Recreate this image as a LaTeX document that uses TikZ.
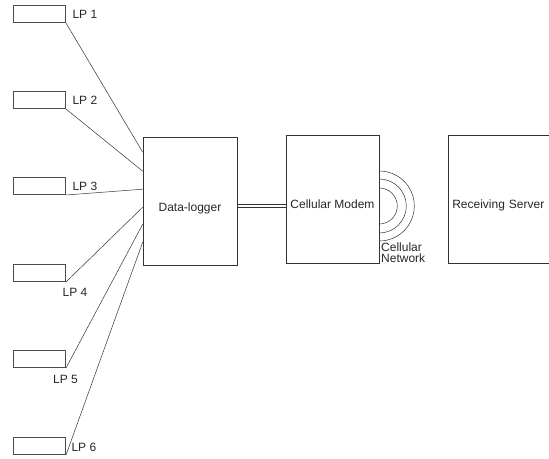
\documentclass[tikz,border=0pt]{standalone}
\usepackage{fontspec}
\setmainfont{Liberation Sans}
\usetikzlibrary{positioning,calc}

\begin{document}
\begin{tikzpicture}[
      x=1pt, y=1pt,
      every node/.style={font=\fontsize{12}{13}\selectfont, text=black!85},
      lpbox/.style={draw=black!70, line width=0.6pt, minimum width=52pt, minimum height=17.5pt,
                    inner sep=0pt, anchor=south east},
      unit/.style={draw=black!80, line width=0.6pt, minimum height=128pt},
      wire/.style={black!80, line width=0.5pt},
      node distance=3pt
    ]
      \useasboundingbox (0,0) rectangle (549,-458);
      \clip (0,0) rectangle (549,-458);

      % loggers on the left
      \node[lpbox] (lp1) at (66,-23) {};
      \node[lpbox] (lp2) at (66,-109) {};
      \node[lpbox] (lp3) at (66,-195) {};
      \node[lpbox] (lp4) at (66,-282) {};
      \node[lpbox] (lp5) at (66,-368) {};
      \node[lpbox] (lp6) at (66,-455) {};

      \node[right=of lp1] (lp1lab) {LP 1};
      \node[right=of lp2] (lp2lab) {LP 2};
      \node[right=of lp3] (lp3lab) {LP 3};
      \node (lp4lab) at (75,-292) {LP 4};
      \node (lp5lab) at (65.5,-379) {LP 5};
      \node[right=2pt of lp6, yshift=-1.5pt] (lp6lab) {LP 6};

      % main units
      \node[unit, minimum width=94pt, text height=19pt, text depth=0pt] (log) at (190,-201.5) {Data-logger};
      \node[unit, minimum width=93pt, text height=19pt, text depth=0pt] (mod) at (332.5,-199) {Cellular Modem};
      \node[unit, anchor=west, text width=100pt, align=left, inner xsep=4pt,
            text height=19pt, text depth=0pt] (srv) at (448,-199) {Receiving Server};

      \node[anchor=north west, align=left, inner sep=0pt,
            font=\fontsize{12}{11}\selectfont] (net) at (381,-243) {Cellular\\Network};

      % connections
      \foreach \i/\d in {1/15,2/34,3/52,4/70,5/87,6/105}
        \draw[wire] (lp\i.south east) -- ([yshift=-\d pt]log.north west);

      \coordinate (lk) at ([yshift=-4.5pt]log.east);
      \coordinate (mk) at ([yshift=-7pt]mod.west);
      \foreach \s in {-1.3,1.3}
        \draw[wire] ([yshift=\s pt]lk) -- ([yshift=\s pt]mk);

      % radio waves
      \foreach \r in {18,27,35}
        \draw[wire] ([yshift=-7pt]mod.east) ++(0,\r) arc[start angle=90, end angle=-90, radius=\r];
    \end{tikzpicture}
\end{document}
